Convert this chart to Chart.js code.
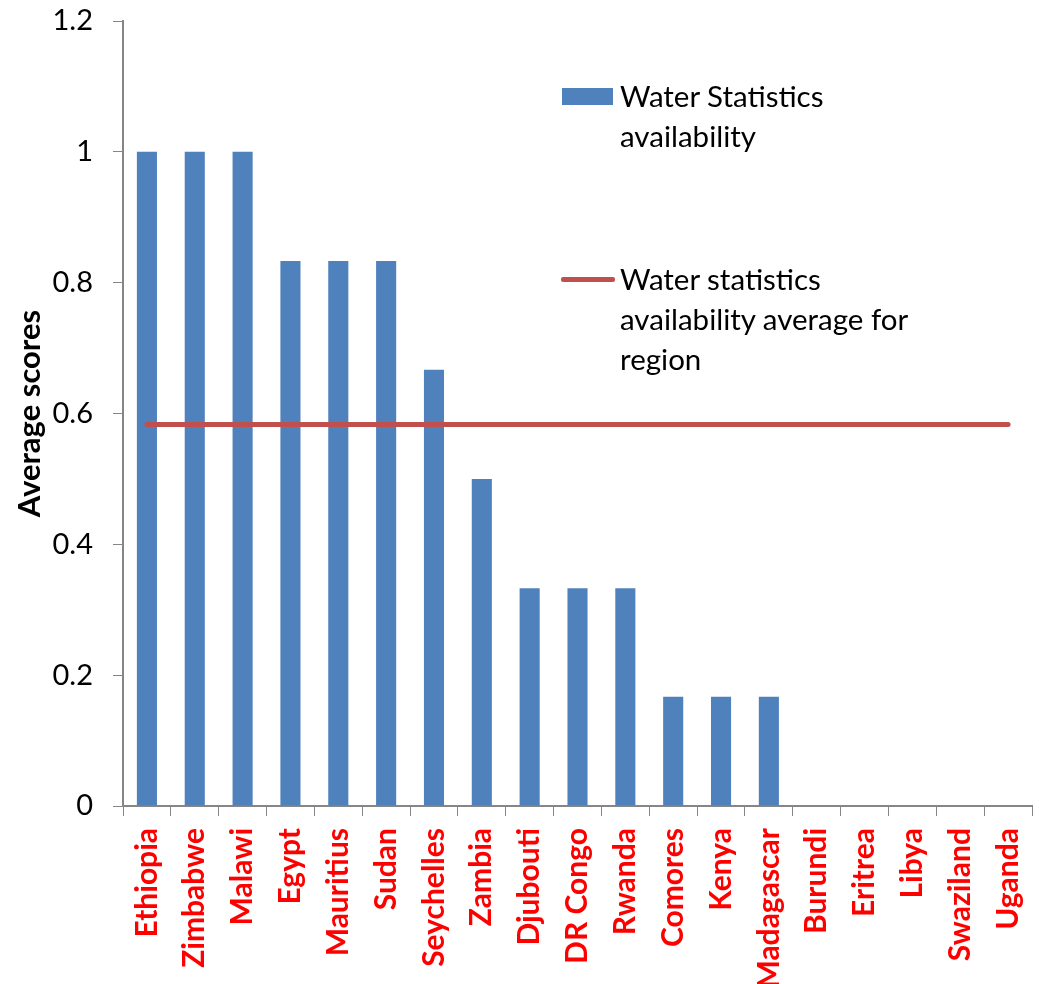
<!DOCTYPE html>
<html>
<head>
<meta charset="utf-8">
<script src="https://cdn.jsdelivr.net/npm/chart.js@4"></script>
<style>
  html, body { margin: 0; padding: 0; background: #fff; }
  #wrap { position: relative; width: 1039px; height: 984px; }
  canvas { position: absolute; left: 0; top: 0; }
  .leg { position: absolute; font-family: Lato, "Open Sans", sans-serif; font-size: 29.5px; line-height: 40px; color: #000; white-space: nowrap; }
  .sw { position: absolute; }
</style>
</head>
<body>
<div id="wrap">
  <canvas id="c" width="1039" height="984"></canvas>
  <div class="sw" style="left:562px; top:88px; width:51px; height:17px; background:#4F81BD;"></div>
  <div class="leg" style="left:620px; top:76px;">Water Statistics<br>availability</div>
  <div class="sw" style="left:561px; top:277px; width:54px; height:5px; background:#C0504D; border-radius:2px;"></div>
  <div class="leg" style="left:620px; top:259px;">Water statistics<br>availability average for<br>region</div>
</div>
<script>
const categories = ["Ethiopia","Zimbabwe","Malawi","Egypt","Mauritius","Sudan","Seychelles","Zambia","Djubouti","DR Congo","Rwanda","Comores","Kenya","Madagascar","Burundi","Eritrea","Libya","Swaziland","Uganda"];
const availability = [1,1,1,0.833,0.833,0.833,0.667,0.5,0.333,0.333,0.333,0.167,0.167,0.167,0,0,0,0,0];
const regionAverage = [0.583,0.583,0.583,0.583,0.583,0.583,0.583,0.583,0.583,0.583,0.583,0.583,0.583,0.583,0.583,0.583,0.583,0.583,0.583];
const yTicks = [0,0.2,0.4,0.6,0.8,1,1.2];

const FONT = 'Lato, "Open Sans", sans-serif';
new Chart(document.getElementById('c'), {
  type: 'bar',
  data: {
    labels: categories,
    datasets: [
      { type: 'line', label: 'Water statistics availability average for region', data: regionAverage,
        borderColor: '#C0504D', borderWidth: 5, pointRadius: 0, fill: false, order: 0, borderCapStyle: 'round' },
      { label: 'Water Statistics availability', data: availability, backgroundColor: '#4F81BD',
        barPercentage: 0.42, categoryPercentage: 1.0, order: 1 }
    ]
  },
  options: {
    responsive: false,
    animation: false,
    devicePixelRatio: 1,
    layout: { padding: { top: 21, right: 7, left: 0, bottom: 0 } },
    plugins: { legend: { display: false }, tooltip: { enabled: false } },
    scales: {
      x: {
        grid: { drawOnChartArea: false, drawTicks: true, tickLength: 10, color: '#868686', offset: true },
        border: { color: '#868686', width: 2 },
        ticks: { color: '#FF0000', font: { family: FONT, size: 30, weight: 'bold' }, maxRotation: 90, minRotation: 90, padding: 12, autoSkip: false },
        afterFit: (s) => { s.height = 178; s.paddingLeft = 0; s.paddingRight = 0; s.paddingTop = 0; s.paddingBottom = 0; }
      },
      y: {
        min: 0, max: 1.2,
        afterBuildTicks: (s) => { s.ticks = yTicks.map(v => ({ value: v })); },
        grid: { drawOnChartArea: false, drawTicks: true, tickLength: 10, color: '#868686' },
        border: { color: '#868686', width: 2 },
        ticks: { color: '#000', font: { family: FONT, size: 29 }, padding: 20,
          callback: (v) => String(Math.round(v * 10) / 10) },
        title: { display: true, text: 'Average scores', color: '#000', font: { family: FONT, size: 31, weight: 'bold' }, padding: { top: 11, bottom: 0 } },
        afterFit: (s) => { s.width = 123; s.paddingLeft = 0; s.paddingRight = 0; s.paddingTop = 0; s.paddingBottom = 0; }
      }
    }
  }
});
</script>
</body>
</html>
